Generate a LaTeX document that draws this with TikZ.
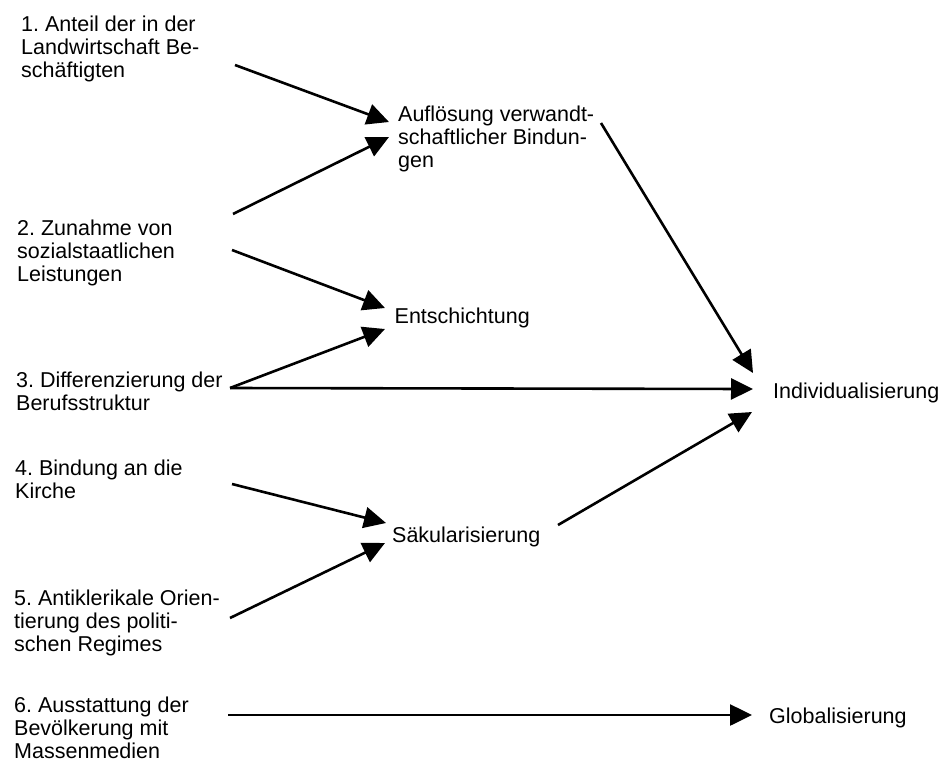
\documentclass[tikz,border=0pt]{standalone}
\usepackage{fontspec}
\setmainfont{Liberation Sans}
\usetikzlibrary{arrows.meta}
\frenchspacing
\begin{document}
\begin{tikzpicture}[x=1pt,y=-1pt,
  lbl/.style={anchor=north west,inner sep=0pt,align=left,font=\fontsize{21.5}{23}\selectfont},
  conn/.style={line width=2.6pt,-{Triangle[length=22pt,width=21pt]}}]
\useasboundingbox[fill=white] (0,0) rectangle (940,769);
% left column
\node[lbl] (n1) at (21,14.9) {\strut 1. Anteil der in der\\Landwirtschaft Be-\\schäftigten};
\node[lbl] (n2) at (17,218.9) {\strut 2. Zunahme von\\sozialstaatlichen\\Leistungen};
\node[lbl] (n3) at (16,370.9) {\strut 3. Differenzierung der\\Berufsstruktur};
\node[lbl] (n4) at (15,458.9) {\strut 4. Bindung an die\\Kirche};
\node[lbl] (n5) at (14,588.9) {\strut 5. Antiklerikale Orien-\\tierung des politi-\\schen Regimes};
\node[lbl] (n6) at (14,695.9) {\strut 6. Ausstattung der\\Bevölkerung mit\\Massenmedien};
% middle column
\node[lbl] (auf) at (398,104.9) {\strut Auflösung verwandt-\\schaftlicher Bindun-\\gen};
\node[lbl] (ent) at (394.5,306.9) {\strut Entschichtung};
\node[lbl] (sak) at (392,525.9) {\strut Säkularisierung};
% right column
\node[lbl] (ind) at (773,381.9) {\strut Individualisierung};
\node[lbl] (glob) at (769,706.9) {\strut Globalisierung};
% connector end points
\coordinate (n1o) at (235,65);
\coordinate (n2o1) at (233,214);
\coordinate (n2o2) at (232,250);
\coordinate (n3o) at (230,388);
\coordinate (n4o) at (232,484);
\coordinate (n5o) at (230,618);
\coordinate (n6o) at (228,715);
\coordinate (aufi1) at (389,122);
\coordinate (aufi2) at (389,137);
\coordinate (aufo) at (601,123);
\coordinate (enti1) at (385,308);
\coordinate (enti2) at (385,329);
\coordinate (saki1) at (386,523);
\coordinate (saki2) at (385,543);
\coordinate (sako) at (558,525);
\coordinate (indi1) at (753,373);
\coordinate (indi2) at (753,389);
\coordinate (indi3) at (752,412);
\coordinate (globi) at (752,715);
% connectors
\draw[conn] (n1o) -- (aufi1);
\draw[conn] (n2o1) -- (aufi2);
\draw[conn] (n2o2) -- (enti1);
\draw[conn] (n3o) -- (enti2);
\draw[conn] (n3o) -- (indi2);
\draw[conn] (n4o) -- (saki1);
\draw[conn] (n5o) -- (saki2);
\draw[conn] (aufo) -- (indi1);
\draw[conn] (sako) -- (indi3);
\draw[conn] (n6o) -- (globi);
\end{tikzpicture}
\end{document}
